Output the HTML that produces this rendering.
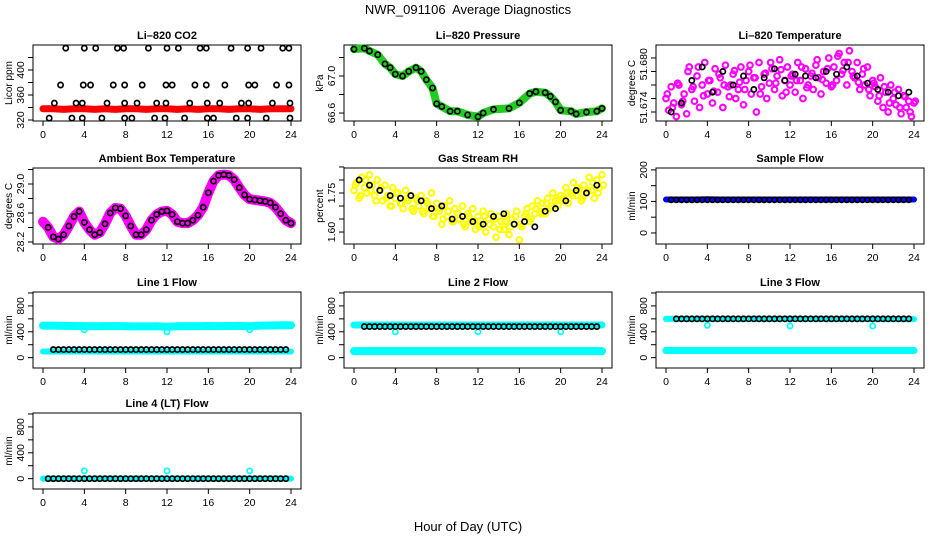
<!DOCTYPE html>
<html><head><meta charset="utf-8">
<style>
html,body{margin:0;padding:0;background:#fff;}
svg{display:block;font-family:"Liberation Sans",Arial,sans-serif;}
</style></head>
<body>
<svg id="chart" xmlns="http://www.w3.org/2000/svg" width="936" height="540" viewBox="0 0 936 540">
<text x="468" y="14" text-anchor="middle" font-size="13">NWR_091106&#160; Average Diagnostics</text>
<text x="468" y="531" text-anchor="middle" font-size="13">Hour of Day (UTC)</text>
</svg>
<script>
// ---- data ----
const co2Hours = [2.2,4.0,5.1,7.2,7.8,10.2,12.0,13.1,15.2,15.8,18.2,19.8,21.1,23.2,23.8,
 1.7,3.9,4.6,6.8,7.9,9.6,11.9,12.5,14.7,15.8,17.6,19.9,20.5,22.6,23.8,
 1.1,3.2,3.8,6.2,7.9,9.1,11.0,11.9,14.2,15.9,17.1,19.2,19.9,22.2,23.9,
 0.6,2.8,3.8,5.7,7.9,8.6,10.8,11.8,13.7,15.9,16.5,18.7,19.8,21.6,23.9];
const co2Vals = [435,435,435,435,435,435,435,435,435,435,435,435,435,435,435,
 376,376,376,376,376,376,376,376,376,376,376,376,376,376,376,
 347,347,347,347,347,347,347,347,347,347,347,347,347,347,347,
 323,323,323,323,323,323,323,323,323,323,323,323,323,323,323];
const co2RedVals = [338,338,337,338,338,337,338,337,338,338,337,338,338,337,338,337,338,338,337,338,338,337,338,338,338];

const presHours = [0,1,1.5,2.3,3,3.5,4,4.7,5.3,6,6.5,7,7.6,8,8.5,9.3,10,11,12,12.5,13.5,15,16,17,17.6,18.5,19,19.5,20,21,21.5,22.5,23.5,24];
const presVals = [67.29,67.30,67.27,67.23,67.13,67.09,67.02,67.00,67.05,67.09,67.05,66.96,66.87,66.70,66.67,66.62,66.62,66.58,66.56,66.60,66.64,66.65,66.71,66.81,66.83,66.82,66.78,66.72,66.63,66.62,66.59,66.61,66.62,66.65];

const tempVals = [51.6755,51.6742,51.6768,51.6750,51.6735,51.6770,51.6748,51.6760,51.6738,
 51.6790,51.6765,51.6752,51.6780,51.6745,51.6770,51.6795,51.6760,
 51.6775,51.6750,51.6788,51.6762,51.6778,51.6745,51.6792,51.6768,
 51.6770,51.6782,51.6755,51.6765,51.6790,51.6748,51.6775,51.6785,
 51.6760,51.6778,51.6740,51.6795,51.6768,51.6782,51.6755,51.6772,
 51.6788,51.6765,51.6780,51.6798,51.6758,51.6775,51.6790,51.6770,
 51.6782,51.6762,51.6795,51.6775,51.6755,51.6788,51.6770,51.6780,
 51.6765,51.6792,51.6778,51.6760,51.6785,51.6772,51.6800,51.6768,
 51.6790,51.6775,51.6805,51.6782,51.6795,51.6770,51.6808,51.6785,
 51.6778,51.6795,51.6765,51.6782,51.6770,51.6790,51.6758,51.6775,
 51.6768,51.6752,51.6778,51.6745,51.6762,51.6740,51.6770,51.6755,
 51.6748,51.6765,51.6738,51.6758,51.6745,51.6752,51.6735,51.6750];
const tempVals2 = [51.6760,51.6745,51.6772,51.6752,51.6785,51.6768,51.6790,51.6758,51.6775,51.6763,51.6782,51.6770,51.6757,51.6786,51.6773,51.6765,51.6792,51.6778,51.6760,51.6783,51.6795,51.6772,51.6787,51.6762,51.6780,51.6775,51.6790,51.6767,51.6783,51.6798,51.6776,51.6788,51.6770,51.6802,51.6786,51.6795,51.6780,51.6773,51.6788,51.6765,51.6772,51.6758,51.6768,51.6750,51.6762,51.6745,51.6757,51.6740,51.6752];
const tempBlack = [51.6740,51.6750,51.6775,51.6790,51.6762,51.6785,51.6770,51.6780,51.6765,51.6778,51.6788,51.6775,51.6782,51.6780,51.6778,51.6785,51.6782,51.6790,51.6780,51.6772,51.6765,51.6762,51.6758,51.6762];

const boxVals = [28.48,28.40,28.27,28.24,28.30,28.42,28.55,28.62,28.47,28.37,28.30,28.33,28.45,28.60,28.67,28.66,28.56,28.42,28.30,28.30,28.37,28.50,28.58,28.62,28.63,28.58,28.48,28.46,28.46,28.50,28.57,28.68,28.88,29.04,29.12,29.13,29.12,29.06,28.95,28.85,28.79,28.78,28.77,28.76,28.74,28.68,28.59,28.50,28.46];

const rhVals = [1.76,1.79,1.73,1.81,1.77,1.75,1.82,1.78,1.74,
 1.80,1.76,1.72,1.78,1.74,1.70,1.77,1.73,
 1.75,1.71,1.69,1.76,1.72,1.74,1.68,1.73,
 1.70,1.74,1.67,1.72,1.69,1.75,1.66,1.71,
 1.68,1.63,1.70,1.66,1.72,1.64,1.69,1.67,
 1.65,1.70,1.62,1.67,1.64,1.69,1.61,1.66,
 1.63,1.68,1.60,1.65,1.67,1.62,1.58,1.66,
 1.64,1.61,1.67,1.59,1.65,1.63,1.68,1.57,
 1.62,1.66,1.69,1.64,1.70,1.67,1.72,1.68,
 1.71,1.67,1.73,1.69,1.75,1.72,1.70,1.74,
 1.73,1.77,1.71,1.75,1.79,1.74,1.76,1.72,
 1.78,1.75,1.81,1.76,1.73,1.80,1.77,1.82];
const rhVals2 = [1.78,1.74,1.80,1.76,1.72,1.77,1.73,1.70,1.75,1.71,1.73,1.69,1.72,1.68,1.71,1.66,1.69,1.65,1.68,1.64,1.67,1.63,1.66,1.64,1.62,1.66,1.63,1.65,1.61,1.64,1.62,1.66,1.63,1.67,1.65,1.69,1.67,1.71,1.70,1.73,1.72,1.75,1.74,1.77,1.73,1.76,1.79,1.75,1.78];
const rhBlack = [1.80,1.78,1.76,1.74,1.73,1.74,1.72,1.69,1.70,1.65,1.66,1.64,1.63,1.66,1.67,1.63,1.64,1.62,1.68,1.69,1.72,1.76,1.75,1.78];

const sampleBlue = [106,106,106,106,107,106,106,106,106,106,106,106,106,106,106,106,106,106,106,106,106,106,106,106,106];
const sampleBlack = [105,105,105,105,105,105,105,105,105,105,105,105,105,105,105,105,105,105,105,105,105,105,105,105,105,105,105,105,105,105,105,105,105,105,105,105,105,105,105,105,105,105,105,105,105,105,105];

const l1Upper = [495,495,492,490,488,485,487,490,485,484,483,485,478,485,487,486,490,488,490,492,485,495,498,500,500];
const l1Lower = [95,95,95,95,95,95,95,95,95,95,95,95,95,95,95,95,95,95,95,95,95,95,95,95,95];
const l1Black = [125,125,125,125,125,125,125,125,125,125,125,125,125,125,125,125,125,125,125,125,125,125,125,125,125,125,125,125,125,125,125,125,125,125,125,125,125,125,125,125,125,125,125,125,125,125,125];
const l1Dips = [430,400,430];

const l2Upper = [505,505,505,505,505,505,505,505,505,505,505,505,505,505,505,505,505,505,505,505,505,505,505,505,505];
const l2Lower = [100,100,100,100,100,100,100,100,100,100,100,100,100,100,100,100,100,100,100,100,100,100,100,100,100];
const l2Black = [480,480,480,480,480,480,480,480,480,480,480,480,480,480,480,480,480,480,480,480,480,480,480,480,480,480,480,480,480,480,480,480,480,480,480,480,480,480,480,480,480,480,480,480,480,480,480];
const l2Dips = [400,400,400];

const l3Upper = [600,600,600,600,600,600,600,600,600,600,600,600,600,600,600,600,600,600,600,600,595,595,595,595,595];
const l3Lower = [110,110,110,110,110,110,110,110,110,110,110,110,110,110,110,110,110,110,110,110,110,110,110,110,110];
const l3Black = [600,600,600,600,600,600,600,600,600,600,600,600,600,600,600,600,600,600,600,600,600,600,600,600,600,600,600,600,600,600,600,600,600,600,600,600,600,600,600,600,600,600,600,600,600,600,600];
const l3Dips = [500,490,490];

const l4Cyan = [0,0,0,0,0,0,0,0,0,0,0,0,0,0,0,0,0,0,0,0,0,0,0,0,0];
const l4Black = [0,0,0,0,0,0,0,0,0,0,0,0,0,0,0,0,0,0,0,0,0,0,0,0,0,0,0,0,0,0,0,0,0,0,0,0,0,0,0,0,0,0,0,0,0,0,0];
const l4Dips = [120,120,120];

const dipHours = [4,12,20];
const xTicks = [0,4,8,12,16,20,24];

// ---- layout ----
const svg = document.getElementById('chart');
const NS = 'http://www.w3.org/2000/svg';
const colL = [33,344,656], rowT = [45,168,292,413], W = 268, H = 76;
function mk(tag, attrs, parent){ const e=document.createElementNS(NS,tag); for(const k in attrs) e.setAttribute(k,attrs[k]); (parent||svg).appendChild(e); return e; }

function panel(name, col, row, title, ymin, ymax, ticks, labelVals, ylab){
  const L=colL[col], T=rowT[row];
  const g = mk('g',{});
  
  
  const sx = h => L + 10 + h*(W-20)/24;
  const sy = v => T + H - (v-ymin)/(ymax-ymin)*H;
  const t = mk('text',{x:L+W/2,y:T-6,'text-anchor':'middle','font-size':'11','font-weight':'bold'},g);
  t.textContent = title;
  
  
  const box = mk('rect',{x:L,y:T,width:W,height:H,fill:'none',stroke:'#000','stroke-width':1},g);
  
  
  const xa = mk('g',{},g);
  
  
  mk('line',{x1:sx(0),x2:sx(24),y1:T+H,y2:T+H,stroke:'#000'},xa);
  xTicks.forEach(h=>{
    mk('line',{x1:sx(h),x2:sx(h),y1:T+H,y2:T+H+5,stroke:'#000'},xa);
    const lt = mk('text',{x:sx(h),y:T+H+17,'text-anchor':'middle','font-size':'10.5'},xa);
    lt.textContent = h;
    
    
  });
  const ya = mk('g',{},g);
  
  
  mk('line',{x1:L,x2:L,y1:sy(ticks[0]),y2:sy(ticks[ticks.length-1]),stroke:'#000'},ya);
  ticks.forEach(v=>mk('line',{x1:L-5,x2:L,y1:sy(v),y2:sy(v),stroke:'#000'},ya));
  labelVals.forEach(v=>{
    const y=sy(v[0]);
    const lt = mk('text',{x:L-9,y:y,'text-anchor':'middle','font-size':'10.5',transform:`rotate(-90 ${L-9} ${y})`},ya);
    lt.textContent = v[1];
    
    
  });
  const yt = mk('text',{x:L-21,y:T+H/2,'text-anchor':'middle','font-size':'10',transform:`rotate(-90 ${L-21} ${T+H/2})`},g);
  yt.textContent = ylab;
  
  
  const plot = mk('g',{},g);
  return {sx, sy, g:plot};
}
function band(p, hours, vals, color, w, nm){
  const pts = hours.map((h,i)=>p.sx(h)+','+p.sy(vals[i])).join(' ');
  const e = mk('polyline',{points:pts,fill:'none',stroke:color,'stroke-width':w,'stroke-linejoin':'round','stroke-linecap':'round'},p.g);
  
  
}
function dots(p, hours, vals, color, nm, r, sw){
  const g = mk('g',{},p.g);
  
  
  hours.forEach((h,i)=>{
    mk('circle',{cx:p.sx(h),cy:p.sy(vals[i]),r:r||2.6,fill:'none',stroke:color,'stroke-width':sw||1.7},g);
  });
}
const hourly = []; for(let i=0;i<=24;i++) hourly.push(i);
const halfH = []; for(let i=0;i<=48;i++) halfH.push(i/2);
const blackH = []; for(let i=1;i<=47;i++) blackH.push(i/2);
const qH = []; for(let i=0;i<=96;i++) qH.push(i/4);
const qH2 = []; for(let i=0;i<=48;i++) qH2.push(i/2+0.125);
const bH24 = []; for(let i=0;i<24;i++) bH24.push(i+0.5);
const range = (a,b,s)=>{const r=[];for(let v=a;v<=b+1e-9;v+=s) r.push(+v.toFixed(5));return r;};

// CO2
let p = panel('co2',0,0,'Li–820 CO2',318.4,440,range(320,420,20),[[320,'320'],[360,'360'],[400,'400']],'Licor ppm');
band(p,hourly,co2RedVals,'#ff0000',7,'co2-red-series');
dots(p,co2Hours,co2Vals,'#000','co2-hourly-points');

// Pressure
p = panel('pressure',1,0,'Li–820 Pressure',66.514,67.335,[66.6,66.8,67.0,67.2],[[66.6,'66.6'],[67.0,'67.0']],'kPa');
band(p,presHours,presVals,'#22cc22',8,'pressure-green-series');
dots(p,presHours,presVals,'#000','pressure-hourly-points');

// Temperature
p = panel('li820-temp',2,0,'Li–820 Temperature',51.673,51.68144,[51.674,51.6755,51.677,51.6785,51.680],[[51.6745,'51.674'],[51.6793,'51.680']],'degrees C');
dots(p,qH,tempVals,'#ff00ff','temp-magenta-points',2.8,2.1);
dots(p,qH2,tempVals2,'#ff00ff','temp-magenta-points-2',2.8,2.1);
dots(p,bH24,tempBlack,'#000','temp-hourly-points');

// Ambient box
p = panel('ambient-box',0,1,'Ambient Box Temperature',28.172,29.221,range(28.2,29.2,0.2),[[28.2,'28.2'],[28.6,'28.6'],[29.0,'29.0']],'degrees C');
band(p,halfH,boxVals,'#ff00ff',10,'box-temp-magenta-series');
dots(p,halfH.slice(1),boxVals.slice(1),'#000','box-temp-hourly-points');

// RH
p = panel('rh',1,1,'Gas Stream RH',1.554,1.846,range(1.60,1.85,0.05),[[1.60,'1.60'],[1.75,'1.75']],'percent');
dots(p,qH,rhVals,'#ffff00','rh-yellow-points',2.8,2.1);
dots(p,qH2,rhVals2,'#ffff00','rh-yellow-points-2',2.8,2.1);
dots(p,bH24,rhBlack,'#000','rh-hourly-points');

// Sample flow
p = panel('sample-flow',2,1,'Sample Flow',-35,206,range(0,200,50),[[0,'0'],[100,'100'],[200,'200']],'ml/min');
band(p,hourly,sampleBlue,'#0000ff',6,'sample-flow-blue-series');
dots(p,blackH,sampleBlack,'#000','sample-flow-hourly-points');

const fT = range(0,1000,200), fL = [[0,'0'],[400,'400'],[800,'800']];
// Line 1
p = panel('line1-flow',0,2,'Line 1 Flow',-160,1015,fT,fL,'ml/min');
band(p,hourly,l1Upper,'#00ffff',8,'line1-upper-cyan');
band(p,hourly,l1Lower,'#00ffff',6,'line1-lower-cyan');
dots(p,dipHours,l1Dips,'#00ffff','line1-dips');
dots(p,blackH.slice(1),l1Black.slice(1),'#000','line1-hourly-points');
// Line 2
p = panel('line2-flow',1,2,'Line 2 Flow',-160,1015,fT,fL,'ml/min');
band(p,hourly,l2Upper,'#00ffff',7,'line2-upper-cyan');
band(p,hourly,l2Lower,'#00ffff',8,'line2-lower-cyan');
dots(p,dipHours,l2Dips,'#00ffff','line2-dips');
dots(p,blackH.slice(1),l2Black.slice(1),'#000','line2-hourly-points');
// Line 3
p = panel('line3-flow',2,2,'Line 3 Flow',-160,1015,fT,fL,'ml/min');
band(p,hourly,l3Upper,'#00ffff',6,'line3-upper-cyan');
band(p,hourly,l3Lower,'#00ffff',7,'line3-lower-cyan');
dots(p,dipHours,l3Dips,'#00ffff','line3-dips');
dots(p,blackH.slice(1),l3Black.slice(1),'#000','line3-hourly-points');
// Line 4
p = panel('line4-flow',0,3,'Line 4 (LT) Flow',-160,1015,fT,fL,'ml/min');
band(p,hourly,l4Cyan,'#00ffff',6,'line4-cyan');
dots(p,dipHours,l4Dips,'#00ffff','line4-spikes');
dots(p,blackH,l4Black,'#000','line4-hourly-points');
</script>
</body></html>
